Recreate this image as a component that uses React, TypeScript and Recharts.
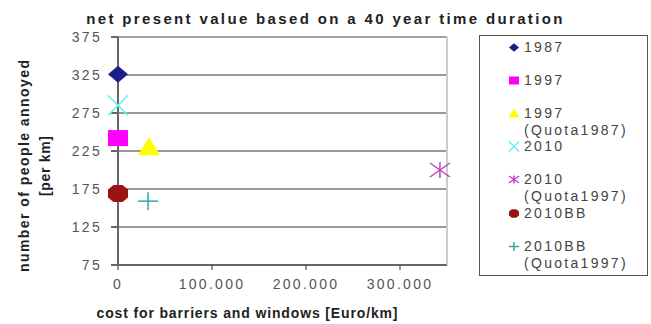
import React from "react";
import {
  CartesianGrid,
  ReferenceLine,
  Scatter,
  ScatterChart,
  XAxis,
  YAxis,
} from "recharts";

// values
const seriesNames = [
  "1987",
  "1997",
  "1997 (Quota1987)",
  "2010",
  "2010 (Quota1997)",
  "2010BB",
  "2010BB (Quota1997)",
];
const legendLines = [
  ["1987"],
  ["1997"],
  ["1997", "(Quota1987)"],
  ["2010"],
  ["2010", "(Quota1997)"],
  ["2010BB"],
  ["2010BB", "(Quota1997)"],
];
const costValues = [0, 0, 33000, 0, 342500, 0, 32000];
const annoyedValues = [326, 242, 230, 285, 200, 169, 159];
const markerKinds = ["diamond", "square", "triangle", "x", "asterisk", "octagon", "plus"];
const markerColors = ["#1c1c8c", "#ff00ff", "#ffff00", "#66f0f0", "#c040c0", "#9b1414", "#35a5aa"];

const xTicks = [0, 100000, 200000, 300000];
const yTicks = [75, 125, 175, 225, 275, 325, 375];

const FONT = '"Liberation Sans", Arial, sans-serif';

const fmtThousands = (v: number) => String(v).replace(/\B(?=(\d{3})+(?!\d))/g, ".");

function Marker({ kind, cx, cy, color, s = 1 }: { kind: string; cx: number; cy: number; color: string; s?: number }) {
  const w = 10 * s;
  const h = 8.5 * s;
  switch (kind) {
    case "diamond":
      return <polygon points={`${cx},${cy - h} ${cx + w},${cy} ${cx},${cy + h} ${cx - w},${cy}`} fill={color} />;
    case "square":
      return <rect x={cx - w} y={cy - 8 * s} width={2 * w} height={16 * s} fill={color} />;
    case "triangle":
      return (
        <polygon
          points={`${cx},${cy - 10 * s} ${cx + 11 * s},${cy + 8 * s} ${cx - 11 * s},${cy + 8 * s}`}
          fill={color}
        />
      );
    case "x":
      return (
        <g stroke={color} strokeWidth={1.5}>
          <line x1={cx - w} y1={cy - w} x2={cx + w} y2={cy + w} />
          <line x1={cx - w} y1={cy + w} x2={cx + w} y2={cy - w} />
        </g>
      );
    case "asterisk":
      return (
        <g stroke={color} strokeWidth={1.5}>
          <line x1={cx - w} y1={cy - 7 * s} x2={cx + w} y2={cy + 7 * s} />
          <line x1={cx - w} y1={cy + 7 * s} x2={cx + w} y2={cy - 7 * s} />
          <line x1={cx} y1={cy - 8 * s} x2={cx} y2={cy + 8 * s} />
        </g>
      );
    case "octagon": {
      const a = 4.5 * s;
      const b = 4 * s;
      return (
        <polygon
          points={[
            [cx - a, cy - h],
            [cx + a, cy - h],
            [cx + w, cy - b],
            [cx + w, cy + b],
            [cx + a, cy + h],
            [cx - a, cy + h],
            [cx - w, cy + b],
            [cx - w, cy - b],
          ]
            .map((p) => p.join(","))
            .join(" ")}
          fill={color}
        />
      );
    }
    case "plus":
    default:
      return (
        <g stroke={color} strokeWidth={1.5}>
          <line x1={cx - w} y1={cy} x2={cx + w} y2={cy} />
          <line x1={cx} y1={cy - 9 * s} x2={cx} y2={cy + 9 * s} />
        </g>
      );
  }
}

function YAxisTitle(props: any) {
  const vb = props.viewBox || { x: 0, y: 37, width: 118, height: 228 };
  const mid = vb.y + vb.height / 2 + 15;
  const style = { fontFamily: FONT, fontSize: 14, fontWeight: 700, fill: "#222" };
  return (
    <g>
      <text
        transform={`translate(${vb.x + 29}, ${mid}) rotate(-90)`}
        textAnchor="middle"
        textLength={212}
        lengthAdjust="spacing"
        style={style}
      >
        number of people annoyed
      </text>
      <text
        transform={`translate(${vb.x + 50}, ${mid}) rotate(-90)`}
        textAnchor="middle"
        textLength={60}
        lengthAdjust="spacing"
        style={style}
      >
        [per km]
      </text>
    </g>
  );
}

function XAxisTitle(props: any) {
  const vb = props.viewBox || { x: 118, y: 265, width: 329, height: 59 };
  return (
    <text
      x={vb.x + 129}
      y={vb.y + 53}
      textAnchor="middle"
      textLength={301}
      lengthAdjust="spacing"
      style={{ fontFamily: FONT, fontSize: 14, fontWeight: 700, fill: "#222" }}
    >
      cost for barriers and windows [Euro/km]
    </text>
  );
}

function ChartLegend() {
  return (
    <div
      style={{
        position: "absolute",
        left: 479,
        top: 35,
        width: 167,
        height: 239,
        border: "1px solid #555",
        fontFamily: FONT,
        fontSize: 14,
        color: "#444",
        letterSpacing: 2.3,
      }}
    >
      {legendLines.map((lines, i) => {
        const cy = 11 + i * 33.2;
        return (
          <div key={seriesNames[i]} style={{ position: "absolute", left: 0, top: cy - 8.5, width: 167 }}>
            <svg width={14} height={17} style={{ position: "absolute", left: 27, top: 0 }}>
              <Marker kind={markerKinds[i]} cx={7} cy={8.5} color={markerColors[i]} s={0.5} />
            </svg>
            <div style={{ position: "absolute", left: 44, top: 0, lineHeight: "17px", whiteSpace: "nowrap" }}>
              {lines.map((l) => (
                <div key={l}>{l}</div>
              ))}
            </div>
          </div>
        );
      })}
    </div>
  );
}

export default function App() {
  const tickStyle = { fill: "#555", fontSize: 14, fontFamily: FONT, letterSpacing: 2.3 };
  return (
    <div style={{ position: "absolute", left: 0, top: 0, width: 651, height: 324, background: "#fff" }}>
      <div
        style={{
          position: "absolute",
          left: 0,
          top: 11,
          width: 651,
          textAlign: "center",
          fontFamily: FONT,
          fontSize: 15,
          lineHeight: "15px",
          fontWeight: 700,
          letterSpacing: 2.35,
          color: "#222",
          whiteSpace: "nowrap",
        }}
      >
        net present value based on a 40 year time duration
      </div>
      <ScatterChart width={651} height={324} margin={{ top: 37, right: 204, bottom: 0, left: 0 }}>
        <CartesianGrid vertical={false} stroke="#333" />
        <XAxis
          type="number"
          dataKey="x"
          domain={[0, 350000]}
          ticks={xTicks}
          tickFormatter={fmtThousands}
          height={59}
          tickSize={5}
          tickMargin={9}
          stroke="#333"
          tick={tickStyle}
          label={{ content: (p: any) => <XAxisTitle {...p} /> }}
        />
        <YAxis
          type="number"
          dataKey="y"
          domain={[75, 375]}
          ticks={yTicks}
          width={118}
          tickSize={7}
          tickMargin={9}
          stroke="#666"
          strokeWidth={2}
          tick={tickStyle}
          label={{ content: (p: any) => <YAxisTitle {...p} /> }}
        />
        <ReferenceLine y={375} stroke="#aaa" />
        <ReferenceLine x={350000} stroke="#ccc" strokeWidth={2} />
        {seriesNames.map((name, i) => (
          <Scatter
            key={name}
            name={name}
            data={[{ x: costValues[i], y: annoyedValues[i] }]}
            fill={markerColors[i]}
            isAnimationActive={false}
            shape={(p: any) => <Marker kind={markerKinds[i]} cx={p.cx} cy={p.cy} color={markerColors[i]} />}
          />
        ))}
      </ScatterChart>
      <ChartLegend />
    </div>
  );
}
